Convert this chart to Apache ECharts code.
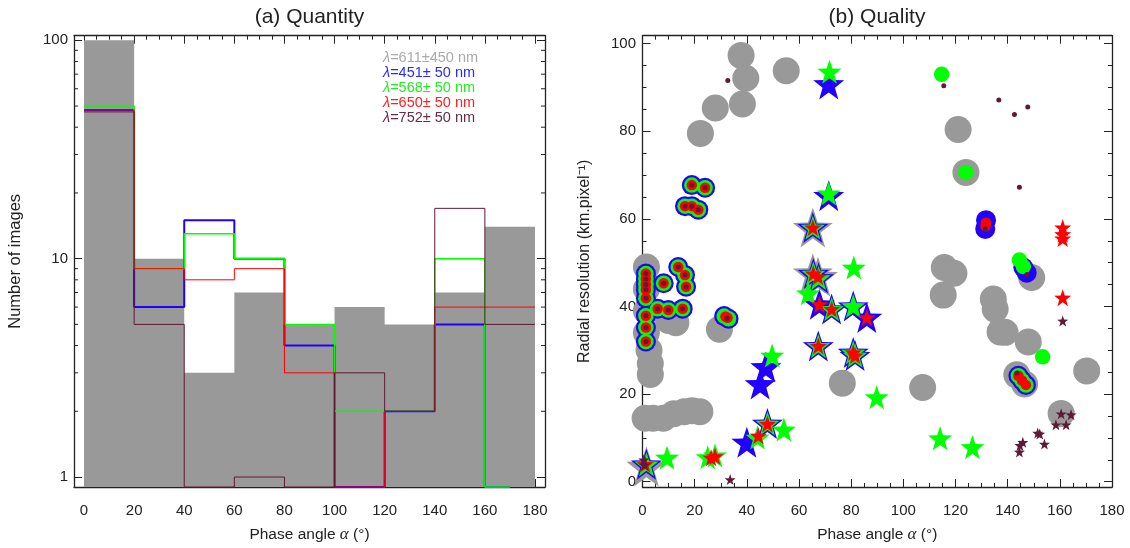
<!DOCTYPE html>
<html><head><meta charset="utf-8">
<script src="https://cdn.jsdelivr.net/npm/echarts@6/dist/echarts.min.js"></script>
<style>html,body{margin:0;padding:0;background:#fff}#c{width:1130px;height:548px}</style>
</head><body><div id="c"></div>
<script>
// ---------- (a) Quantity: histogram data ----------
const binEdges = [0, 20, 40, 60, 80, 100, 120, 140, 160, 180];
const panCounts     = [100, 10, 3, 7, 5, 6, 5, 7, 14];
const blueCounts    = [48, 6, 15, 10, 4, 0, 2, 5, 0];
const greenCounts   = [50, 9, 13, 10, 5, 2, 2, 10, 0];
const redCounts     = [48, 9, 8, 9, 3, 0, 2, 6, 6];
const darkredCounts = [47, 5, 0, 1, 0, 3, 2, 17, 5];
const histEnd = [180, 170, 170, 180, 180];
const filterNames = ['λ=611±450 nm', 'λ=451± 50 nm', 'λ=568± 50 nm', 'λ=650± 50 nm', 'λ=752± 50 nm'];
const logMinorTicks = [2, 3, 4, 5, 6, 7, 8, 9, 20, 30, 40, 50, 60, 70, 80, 90];

// ---------- (b) Quality: [phase angle, radial resolution] ----------
const ringGroups = [[18.9,67.7],[24.0,67.1],[16.3,62.9],[18.9,62.9],[21.4,62.1],
  [1.3,47.5],[1.3,46.3],[1.3,45.0],[1.3,43.8],[1.3,41.9],[1.3,37.9],[1.3,35.2],[1.3,32.0],
  [8.1,45.3],[13.7,49.0],[16.3,47.2],[16.7,44.5],[5.8,39.5],[9.9,39.2],[15.4,39.5]];
const grayCircles = [[37.8,97.3],[39.6,92.1],[38.3,86.2],[27.9,85.3],[22.2,79.5],[55.1,93.8],
  [121.0,80.4],[124.0,70.6],[115.7,48.9],[119.4,47.6],[115.3,42.6],[134.5,41.7],[135.2,39.4],
  [137.1,34.2],[139.0,34.1],[147.9,31.9],[149.2,46.6],[170.3,25.3],[107.4,21.5],[76.6,22.5],
  [160.5,15.6],[143.5,24.4],[146.5,22.3],[29.5,34.8],[10.0,36.8],[12.8,36.3],
  [1.5,49.0],[1.5,44.0],[1.5,39.0],[1.5,34.0],[2.5,30.0],[3.0,27.0],[3.0,24.5],
  [1.0,14.5],[4.0,14.5],[8.0,14.5],[12.0,15.5],[16.0,16.0],[19.0,16.2],[22.0,16.0]];
const grayStars = [[65.3,58.0],[65.3,47.6],[67.3,46.8],[1.5,3.5]];
const blueCircles = [...ringGroups, [31.3,37.8],[33.0,37.2],[131.7,59.7],[131.4,57.7],
  [146.0,48.9],[147.3,47.7],[144.1,24.2],[145.5,23.1],[147.0,22.1]];
const blueStars = [[71.4,90.8],[71.4,65.3],[65.3,58.0],[65.5,47.5],[67.5,46.5],[67.8,40.5],
  [72.5,39.4],[80.8,40.1],[86.0,37.5],[67.4,31.0],[80.8,29.5],[81.5,28.8],[45.1,22.3],
  [47.3,26.2],[40.0,9.0],[47.9,13.3],[1.5,4.0]];
const greenCircles = [...ringGroups, [31.3,37.8],[33.0,37.2],[114.7,93.0],[124.0,70.6],
  [144.5,50.6],[146.0,49.1],[153.4,28.5],[144.1,24.2],[145.5,23.1],[147.0,22.1]];
const greenStars = [[71.7,93.6],[71.4,65.8],[65.3,58.0],[65.5,47.5],[67.5,46.5],[81.0,48.9],
  [63.5,43.0],[72.5,39.4],[80.8,40.1],[67.4,31.0],[80.8,29.5],[81.5,28.8],[49.7,28.8],
  [89.8,19.3],[9.4,5.5],[25.0,5.6],[27.8,6.0],[44.1,10.1],[47.9,13.3],[54.2,11.9],
  [114.1,9.9],[126.5,7.9],[1.5,4.0]];
const redCircles = [...ringGroups, [31.8,37.7],[32.6,37.4],[131.7,59.1],[131.5,58.3],
  [144.1,24.2],[145.5,23.1],[147.0,22.1]];
const redStars = [[65.3,58.0],[65.5,47.5],[67.3,46.8],[67.8,40.5],[72.5,39.4],[86.0,37.5],
  [67.4,31.0],[80.8,29.5],[81.5,28.8],[26.3,5.5],[27.8,5.8],[44.4,10.5],[47.9,13.2],[1.0,4.0],
  [161.1,58.0],[161.1,56.5],[161.1,55.5],[161.1,42.0]];
const darkredCircles = [...ringGroups, [32.4,37.3],[32.7,91.6],[115.5,90.4],[136.6,87.1],
  [142.6,83.8],[147.7,85.5],[144.5,67.2],[131.4,57.7],[147.3,47.3],[143.5,24.8]];
const darkredStars = [[33.6,0.5],[0.8,3.8],[0.5,5.0],[161.1,36.7],[160.5,15.5],[164.3,15.3],
  [158.5,13.0],[162.4,13.0],[151.5,11.1],[152.3,10.9],[154.1,8.6],[145.8,9.0],[144.7,8.3],[144.5,6.8]];

// ---------- styling ----------
const FONT = '"Liberation Sans", Arial, Helvetica, sans-serif';
const AX = '#222';
const COLORS = ['#999999', '#2200ff', '#00ff00', '#ff0000', '#5e1a36'];
const LEGEND_COLORS = ['#aaaaaa', '#2a2aff', '#22ee22', '#ff2020', '#6a2c44'];
const LINE_W = [0, 2, 1.5, 1, 1];
const STAR = 'path://M0,-100L23.5,-32.4L95.1,-30.9L38,12.4L58.8,80.9L0,40L-58.8,80.9L-38,12.4L-95.1,-30.9L-23.5,-32.4Z';
const Y_MIN_A = 0.9;

const chart = echarts.init(document.getElementById('c'), null, {renderer: 'canvas'});

function stepData(counts, end) {
  const pts = counts.map((c, i) => [binEdges[i], c > 0 ? c : Y_MIN_A]);
  const last = counts[counts.length - 1];
  pts.push([end, last > 0 ? last : Y_MIN_A]);
  return pts;
}
function axisBase(o) {
  return Object.assign({
    type: 'value',
    axisLine: {show: true, onZero: false, lineStyle: {color: AX, width: 1.3}},
    axisTick: {show: true, inside: true, length: 8, lineStyle: {color: AX, width: 1}},
    minorTick: {show: true, splitNumber: 4, length: 4, lineStyle: {color: AX, width: 1}},
    splitLine: {show: false}, minorSplitLine: {show: false},
    axisLabel: {show: false}
  }, o);
}
const mult20 = v => (Math.abs(v / 20 - Math.round(v / 20)) < 1e-6 ? String(Math.round(v)) : '');
const pow10 = v => { const l = Math.log10(v); return Math.abs(l - Math.round(l)) < 1e-4 ? String(Math.round(v)) : ''; };
const labelStyle = (fmt, margin) => ({show: true, color: AX, fontSize: 15, fontFamily: FONT, margin: margin, formatter: fmt, showMinLabel: true, showMaxLabel: true});
const xName = {
  name: 'Phase angle {a|α} (°)', nameLocation: 'middle', nameGap: 39,
  nameTextStyle: {color: AX, fontSize: 15.5, fontFamily: FONT,
    rich: {a: {fontStyle: 'italic', fontFamily: '"Liberation Serif", serif', fontSize: 17, color: AX}}}
};

const histSeries = [panCounts, blueCounts, greenCounts, redCounts, darkredCounts].map((counts, k) => {
  const s = {
    type: 'line', name: filterNames[k], xAxisIndex: 0, yAxisIndex: 0,
    step: 'end', symbol: 'none', silent: true, clip: false,
    data: stepData(counts, histEnd[k]),
    z: 2 + k,
    lineStyle: {color: COLORS[k], width: LINE_W[k]}
  };
  if (k === 0) {
    s.lineStyle = {width: 0, color: COLORS[0]};
    s.areaStyle = {color: COLORS[0], opacity: 1, origin: 'start'};
  }
  return s;
});

function scat(k, data, symbol, size) {
  return {type: 'scatter', name: filterNames[k], xAxisIndex: 2, yAxisIndex: 2, data: data,
    symbol: symbol, symbolSize: size, silent: true, clip: true, z: 2 + k,
    itemStyle: {color: COLORS[k], opacity: 1}};
}

const option = {
  animation: false,
  backgroundColor: '#fff',
  textStyle: {fontFamily: FONT},
  title: [
    {text: '(a) Quantity', left: 309.5, top: 7, padding: 0, textAlign: 'center',
     textStyle: {fontSize: 21, fontWeight: 'normal', color: AX, fontFamily: FONT}},
    {text: '(b) Quality', left: 877, top: 7, padding: 0, textAlign: 'center',
     textStyle: {fontSize: 21, fontWeight: 'normal', color: AX, fontFamily: FONT}}
  ],
  legend: {
    left: 378, top: 50, orient: 'vertical', padding: 0, itemWidth: 0, itemHeight: 10, itemGap: 0,
    icon: 'none', selectedMode: false,
    textStyle: {fontSize: 14.5, fontFamily: FONT, lineHeight: 13.7,
      rich: {i: {fontStyle: 'italic', fontSize: 14.5, fontFamily: FONT, lineHeight: 13.7}}},
    formatter: n => '{i|λ}' + n.slice(1),
    data: filterNames.map((n, i) => ({name: n, textStyle: {color: LEGEND_COLORS[i]}}))
  },
  grid: [
    {left: 74, top: 35.7, width: 471, height: 452.6},
    {left: 642.5, top: 35.7, width: 469.5, height: 452.6}
  ],
  xAxis: [
    axisBase(Object.assign({gridIndex: 0, position: 'bottom', min: -4, max: 184, splitNumber: 9,
      axisLabel: labelStyle(mult20, 16)}, xName)),
    axisBase({gridIndex: 0, position: 'top', min: -4, max: 184, splitNumber: 9}),
    axisBase(Object.assign({gridIndex: 1, position: 'bottom', min: 0, max: 180, interval: 20,
      axisLabel: labelStyle(mult20, 16)}, xName)),
    axisBase({gridIndex: 1, position: 'top', min: 0, max: 180, interval: 20})
  ],
  yAxis: [
    axisBase({gridIndex: 0, position: 'left', type: 'log', logBase: 10, min: Y_MIN_A, max: 105,
      minorTick: {show: false}, axisLabel: labelStyle(pow10, 6),
      name: 'Number of images', nameLocation: 'middle', nameGap: 50,
      nameTextStyle: {color: AX, fontSize: 16.5, fontFamily: FONT}}),
    axisBase({gridIndex: 0, position: 'right', type: 'log', logBase: 10, min: Y_MIN_A, max: 105,
      minorTick: {show: false}}),
    axisBase({gridIndex: 1, position: 'left', min: -1.2, max: 101.8, splitNumber: 5,
      axisLabel: labelStyle(mult20, 6.5),
      name: 'Radial resolution (km.pixel⁻¹)', nameLocation: 'middle', nameGap: 50,
      nameTextStyle: {color: AX, fontSize: 16, fontFamily: FONT}}),
    axisBase({gridIndex: 1, position: 'right', min: -1.2, max: 101.8, splitNumber: 5})
  ],
  series: [
    ...histSeries,
    {
      type: 'custom', xAxisIndex: 0, yAxisIndex: 0, silent: true, z: 10,
      data: logMinorTicks.map(v => [0, v]),
      renderItem: function (params, api) {
        const p = api.coord([0, api.value(1)]);
        const cs = params.coordSys;
        const st = {stroke: AX, lineWidth: 1};
        return {type: 'group', children: [
          {type: 'line', shape: {x1: cs.x, y1: p[1], x2: cs.x + 4, y2: p[1]}, style: st},
          {type: 'line', shape: {x1: cs.x + cs.width - 4, y1: p[1], x2: cs.x + cs.width, y2: p[1]}, style: st}
        ]};
      }
    },
    scat(0, grayCircles, 'circle', 27),
    scat(0, grayStars, STAR, 40),
    scat(1, blueCircles, 'circle', 20),
    scat(1, blueStars, STAR, 31),
    scat(2, greenCircles, 'circle', 15.5),
    scat(2, greenStars, STAR, 24),
    scat(3, redCircles, 'circle', 10.5),
    scat(3, redStars, STAR, 17),
    scat(4, darkredCircles, 'circle', 5),
    scat(4, darkredStars, STAR, 11)
  ]
};
chart.setOption(option);
</script></body></html>
